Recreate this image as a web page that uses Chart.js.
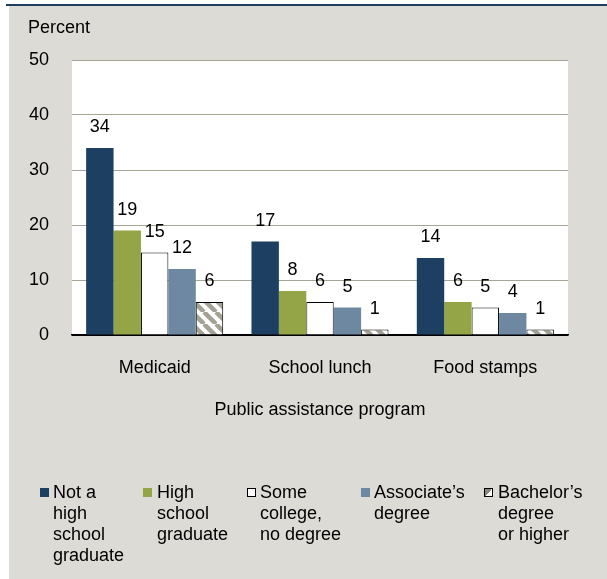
<!DOCTYPE html>
<html>
<head>
<meta charset="utf-8">
<script src="https://cdn.jsdelivr.net/npm/chart.js@4.4.1/dist/chart.umd.min.js"></script>
<style>
  html, body { margin: 0; padding: 0; background: #ffffff; }
  #wrap { position: relative; width: 607px; height: 579px; overflow: hidden; }
  #c { position: absolute; left: 0; top: 0; }
  .leg { position: absolute; top: 482px; font-family: "Liberation Sans", Arial, sans-serif; font-size: 18px; line-height: 21px; color: #000; white-space: pre; }
  .box { position: absolute; width: 9px; height: 9px; top: 488px; box-sizing: border-box; }
</style>
</head>
<body>
<div id="wrap">
  <canvas id="c" width="607" height="579"></canvas>
</div>
<script>
// ---- data ----
const categories = ["Medicaid", "School lunch", "Food stamps"];
const seriesNames = [
  "Not a\nhigh\nschool\ngraduate",
  "High\nschool\ngraduate",
  "Some\ncollege,\nno degree",
  "Associate\u2019s\ndegree",
  "Bachelor\u2019s\ndegree\nor higher"
];
const notHighSchool = [34, 17, 14];
const highSchoolGrad = [19, 8, 6];
const someCollege = [15, 6, 5];
const associates = [12, 5, 4];
const bachelors = [6, 1, 1];
const yTicks = [0, 10, 20, 30, 40, 50];
const yAxisLabel = "Percent";
const xAxisTitle = "Public assistance program";

// ---- styles ----
const FONT = '"Liberation Sans", Arial, sans-serif';
const BG = '#dcdbd6';
const NAVY = '#1d3f62';
const GREEN = '#93a546';
const STEEL = '#6f88a2';
const STRIPE = '#a4a295';

function makeHatch() {
  const p = document.createElement('canvas');
  p.width = 12; p.height = 12;
  const g = p.getContext('2d');
  g.fillStyle = '#ffffff';
  g.fillRect(0, 0, 12, 12);
  g.strokeStyle = STRIPE;
  g.lineWidth = 4.5;
  for (const x of [-12, 0, 12]) {
    g.beginPath();
    g.moveTo(x, 0);
    g.lineTo(x + 12, 12);
    g.stroke();
  }
  return g.createPattern(p, 'repeat');
}

const ctx = document.getElementById('c').getContext('2d');
const hatch = makeHatch();

const seriesValues = [notHighSchool, highSchoolGrad, someCollege, associates, bachelors];
const fills = [NAVY, GREEN, '#ffffff', STEEL, hatch];
const borders = [NAVY, GREEN, '#000000', STEEL, '#000000'];
const borderWidths = [0, 0, 1, 0, 1];

const datasets = seriesValues.map((vals, i) => ({
  label: seriesNames[i].replace(/\n/g, ' '),
  data: vals,
  backgroundColor: fills[i],
  borderColor: borders[i],
  borderWidth: borderWidths[i],
  borderSkipped: 'bottom',
  categoryPercentage: 0.829,
  barPercentage: 1.0
}));

const bgPlugin = {
  id: 'bg',
  beforeDraw(chart) {
    const c = chart.ctx;
    const a = chart.chartArea;
    c.save();
    c.fillStyle = '#ffffff';
    c.fillRect(0, 0, chart.width, chart.height);
    c.fillStyle = BG;
    c.fillRect(9, 6, chart.width - 9, chart.height - 6);
    c.fillStyle = '#1f3d60';
    c.fillRect(6, 4, chart.width - 6, 2);
    c.fillStyle = '#ffffff';
    c.fillRect(a.left, a.top, a.right - a.left, a.bottom - a.top);
    c.fillStyle = '#000';
    c.font = '18px ' + FONT;
    c.textAlign = 'left';
    c.textBaseline = 'alphabetic';
    c.fillText(yAxisLabel, 28, 33);
    c.restore();
  }
};

const labelPlugin = {
  id: 'vals',
  afterDatasetsDraw(chart) {
    const c = chart.ctx;
    c.save();
    c.fillStyle = '#000';
    c.font = '18px ' + FONT;
    c.textAlign = 'center';
    c.textBaseline = 'alphabetic';
    chart.data.datasets.forEach((ds, i) => {
      const meta = chart.getDatasetMeta(i);
      meta.data.forEach((bar, j) => {
        c.fillText(String(ds.data[j]), bar.x, bar.y - 16);
      });
    });
    c.restore();
  }
};

new Chart(ctx, {
  type: 'bar',
  data: { labels: categories, datasets },
  options: {
    responsive: false,
    animation: false,
    devicePixelRatio: 1,
    layout: { padding: { left: 0, top: 60, right: 39, bottom: 144 } },
    plugins: { legend: { display: false }, tooltip: { enabled: false } },
    scales: {
      x: {
        grid: { display: false, drawTicks: false },
        border: { display: true, color: '#000000', width: 1.5 },
        ticks: { color: '#000', font: { family: FONT, size: 18 }, padding: 22 },
        title: {
          display: true, text: xAxisTitle, color: '#000',
          font: { family: FONT, size: 18 }, padding: { top: 0, bottom: 14 }
        },
        afterFit(s) { s.height = 100; }
      },
      y: {
        min: 0, max: 50,
        afterBuildTicks(s) { s.ticks = yTicks.map(v => ({ value: v })); },
        grid: {
          drawTicks: false,
          color: (c) => (c.tick && c.tick.value === 0) ? '#000000' : '#a6a696',
          lineWidth: 1
        },
        border: { display: false },
        ticks: { color: '#000', font: { family: FONT, size: 18 }, padding: 23 },
        afterFit(s) { s.width = 72; }
      }
    }
  },
  plugins: [bgPlugin, labelPlugin]
});

// ---- HTML legend (real text) ----
const wrap = document.getElementById('wrap');
const boxX = [40, 143, 247, 361, 484];
const textX = [53, 157, 260, 374, 498];
seriesNames.forEach((name, i) => {
  const b = document.createElement('div');
  b.className = 'box';
  b.style.left = boxX[i] + 'px';
  if (i === 2) { b.style.background = '#fff'; b.style.border = '1px solid #000'; }
  else if (i === 4) { b.style.background = 'linear-gradient(135deg, #8b897d 50%, #ffffff 50%)'; b.style.border = '1px solid #000'; }
  else { b.style.background = fills[i]; }
  wrap.appendChild(b);
  const t = document.createElement('div');
  t.className = 'leg';
  t.style.left = textX[i] + 'px';
  t.textContent = name;
  wrap.appendChild(t);
});
</script>
</body>
</html>
